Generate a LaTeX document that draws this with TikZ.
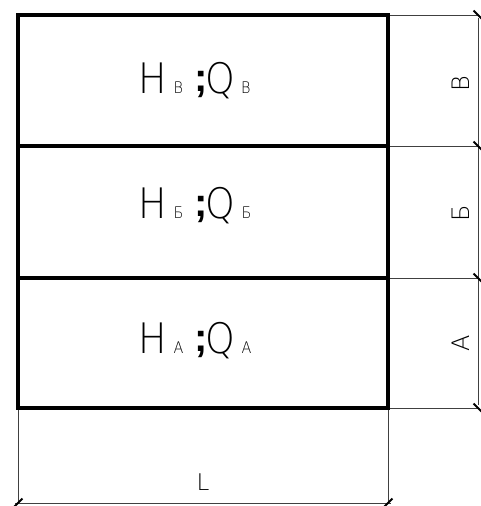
\documentclass[tikz,border=0pt]{standalone}
\usepackage{fontspec}
\setmainfont{Liberation Sans}
\newfontfamily\thinfont{DejaVu Sans ExtraLight}
\newfontfamily\thinnarrow[FakeStretch=0.9]{DejaVu Sans ExtraLight}
\begin{document}
\begin{tikzpicture}[x=1pt,y=-1pt,
  wall/.style={line width=4pt},
  extline/.style={line width=0.8pt,draw=black!75},
  dimline/.style={line width=0.8pt,draw=black!75},
  tick/.style={line width=1.8pt},
  cell/.style={inner sep=0pt,anchor=base west},
  dimlabel/.style={inner sep=0pt,font=\thinfont\fontsize{24}{24}\selectfont}]
\useasboundingbox (0,0) rectangle (481,506);
% coordinates
\coordinate (tl) at (18,15);
\coordinate (tr) at (388,15);
\coordinate (m1l) at (18,146);
\coordinate (m1r) at (388,146);
\coordinate (m2l) at (18,278);
\coordinate (m2r) at (388,278);
\coordinate (bl) at (18,408);
\coordinate (br) at (388,408);
\coordinate (d0) at (478,15);
\coordinate (d1) at (478,146);
\coordinate (d2) at (478,278);
\coordinate (d3) at (478,408);
\coordinate (e0) at (18,503);
\coordinate (e1) at (388,503);
% extension lines
\draw[extline] (tr) -- (d0);
\draw[extline] (m1r) -- (d1);
\draw[extline] (m2r) -- (d2);
\draw[extline] (br) -- (d3);
\draw[extline] (bl) -- (e0);
\draw[extline] (br) -- (e1);
% dimension lines
\draw[dimline] ([yshift=-3]d0) -- ([yshift=3]d3);
\draw[dimline] ([xshift=-3]e0) -- ([xshift=3]e1);
% ticks
\foreach \p in {d0,d1,d2,d3}
  \draw[tick] ([shift={(-4.5,-4.5)}]\p) -- ([shift={(4.5,4.5)}]\p);
\foreach \p in {e0,e1}
  \draw[tick] ([shift={(-4.5,4.5)}]\p) -- ([shift={(4.5,-4.5)}]\p);
% walls
\draw[wall] (tl) rectangle (br);
\draw[wall] (m1l) -- (m1r);
\draw[wall] (m2l) -- (m2r);
% cell labels
\newcommand{\celltext}[1]{{\thinnarrow\fontsize{42}{42}\selectfont H}\hspace{7pt}{\thinnarrow\fontsize{16}{16}\selectfont #1}\hspace{11pt}\raisebox{2pt}{\bfseries\fontsize{40}{40}\selectfont ;}\hspace{-2pt}{\thinnarrow\fontsize{42}{42}\selectfont Q}\hspace{6pt}{\thinnarrow\fontsize{16}{16}\selectfont #1}}
\node[cell] (cV) at (138,93.3) {\celltext{В}};
\node[cell] (cB) at (138,218.3) {\celltext{Б}};
\node[cell] (cA) at (138,353.3) {\celltext{А}};
% dimension labels
\node[dimlabel,rotate=90] (lV) at (460.5,83.3) {В};
\node[dimlabel,rotate=90] (lB) at (460.5,213) {Б};
\node[dimlabel,rotate=90] (lA) at (460.5,343.7) {А};
\node[dimlabel,font=\thinfont\fontsize{23}{23}\selectfont] (lL) at (203,482.3) {L};
\end{tikzpicture}
\end{document}
